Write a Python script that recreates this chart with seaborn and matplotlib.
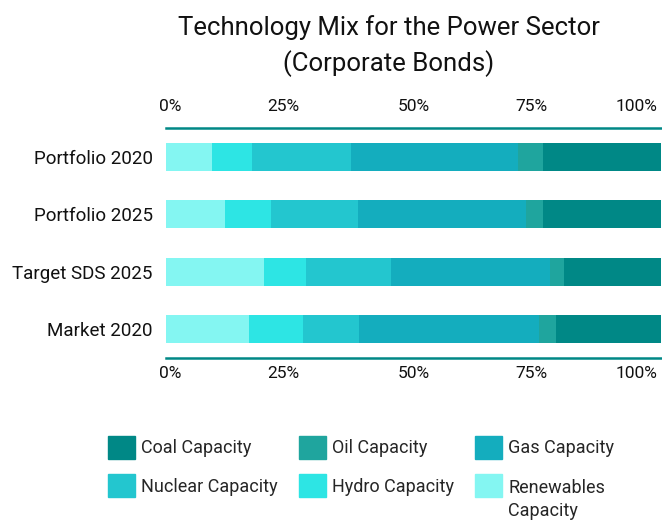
import matplotlib
matplotlib.use("Agg")
import matplotlib.pyplot as plt
import matplotlib.patches as mpatches
import matplotlib.transforms as mtransforms
import numpy as np
import pandas as pd
import seaborn as sns

# data (percent of capacity)
categories = ["Portfolio 2020", "Portfolio 2025", "Target SDS 2025", "Market 2020"]
renewables = [9.3, 11.9, 19.8, 16.8]
hydro = [8.1, 9.3, 8.5, 10.9]
nuclear = [20.0, 17.6, 17.2, 11.3]
gas = [33.7, 33.9, 32.1, 36.4]
oil = [5.1, 3.4, 2.8, 3.4]
coal = [23.8, 23.9, 19.6, 21.2]

tech_names = ["Renewables Capacity", "Hydro Capacity", "Nuclear Capacity",
              "Gas Capacity", "Oil Capacity", "Coal Capacity"]
tech_colors = ["#84F6F2", "#2DE5E4", "#23C6CF", "#14ADBE", "#1FA59E", "#008886"]
tick_vals = [0, 25, 50, 75, 100]
tick_labels = ["0%", "25%", "50%", "75%", "100%"]

sns.set_style("white")
plt.rcParams["font.family"] = ["Roboto", "DejaVu Sans"]

df = pd.DataFrame({"category": categories, "Renewables Capacity": renewables,
                   "Hydro Capacity": hydro, "Nuclear Capacity": nuclear,
                   "Gas Capacity": gas, "Oil Capacity": oil, "Coal Capacity": coal})
cum = df[tech_names].cumsum(axis=1)

fig = plt.figure(figsize=(6.62, 5.2), dpi=100)
ax = fig.add_axes([166 / 662, 1 - 358 / 520, 495 / 662, 230 / 520])

# stacked bars: draw the longest cumulative segment first, then overlay
for name, color in reversed(list(zip(tech_names, tech_colors))):
    sns.barplot(x=cum[name], y=df["category"], color=color, orient="h",
                width=0.49, ax=ax, saturation=1, edgecolor="none", linewidth=0)

ax.set_xlim(0, 100)
ax.set_ylim(3.5, -0.5)
ax.set_xlabel("")
ax.set_ylabel("")
ax.set_xticks(tick_vals)
ax.set_xticklabels(tick_labels)
ax.tick_params(axis="x", length=0, pad=6, labelsize=12.5, colors="#111111")
ax.tick_params(axis="y", length=0, pad=9.5, labelsize=13.5, colors="#111111")

top = ax.secondary_xaxis("top")
top.set_xticks(tick_vals)
top.set_xticklabels(tick_labels)
top.tick_params(axis="x", length=0, pad=10, labelsize=12.5, colors="#111111")

# small horizontal nudges (px) so the labels sit where the original puts them
shifts = [-7, -6, 0, -6, -4]
for a in (ax, top):
    labs = a.get_xticklabels()
    labs[0].set_ha("left")
    labs[-1].set_ha("right")
    for lab, dx in zip(labs, shifts):
        lab.set_transform(lab.get_transform()
                          + mtransforms.ScaledTranslation(dx / 100, 0, fig.dpi_scale_trans))

for side in ["left", "right"]:
    ax.spines[side].set_visible(False)
for side in ["top", "bottom"]:
    ax.spines[side].set_color("#008886")
    ax.spines[side].set_linewidth(1.8)
top.spines["top"].set_visible(False)

fig.text(389 / 662, 1 - 46 / 520,
         "Technology Mix for the Power Sector\n(Corporate Bonds)",
         ha="center", va="center", fontsize=18.5, linespacing=1.5, color="#111111")

# legend, row-major order: Coal, Oil, Gas / Nuclear, Hydro, Renewables
order = ["Coal Capacity", "Nuclear Capacity", "Oil Capacity",
         "Hydro Capacity", "Gas Capacity", "Renewables Capacity"]
color_of = dict(zip(tech_names, tech_colors))
handles = [mpatches.Patch(color=color_of[n], label=n.replace("Renewables ", "Renewables\n"))
           for n in order]
leg = fig.legend(handles=handles, loc="upper left", bbox_to_anchor=(108 / 662, 1 - 436 / 520),
                 ncol=3, frameon=False, fontsize=13, handlelength=1.5, handleheight=1.55,
                 handletextpad=0.35, columnspacing=1.15, labelspacing=0.87,
                 borderpad=0, borderaxespad=0)
# keep the square of the two-line entry level with its first line
last_col = leg._legend_handle_box.get_children()[-1]
last_col.get_children()[-1].align = "top"
ren_text = leg.get_texts()[-1]
ren_text.set_linespacing(1.35)
ren_text.set_y(-5)

fig.savefig("out.png", dpi=100)
